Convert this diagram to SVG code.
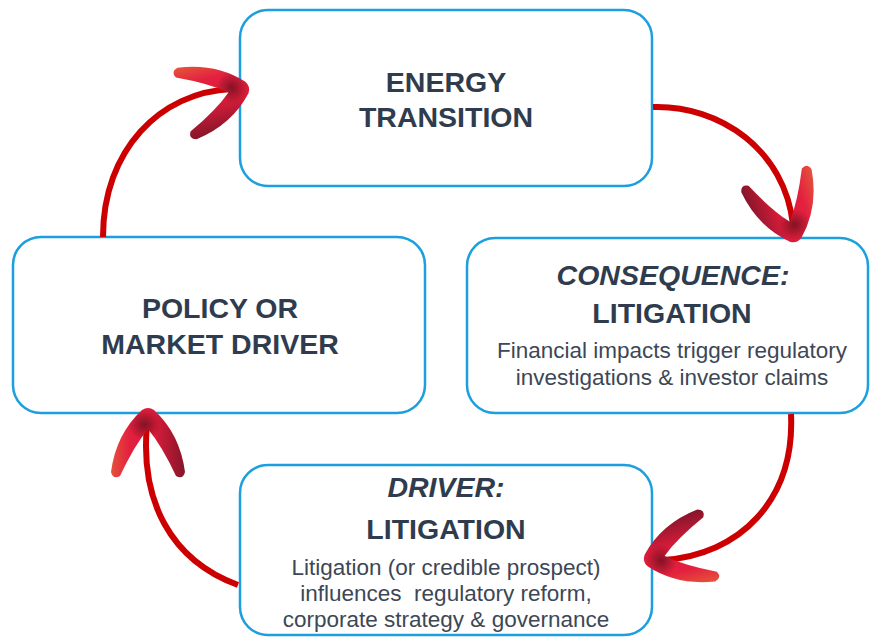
<svg xmlns="http://www.w3.org/2000/svg" width="870" height="637" viewBox="0 0 870 637">
<style>
.box{fill:#ffffff;stroke:#1b9fde;stroke-width:2.5}
.title{font-family:"Liberation Sans",Arial,sans-serif;font-weight:bold;font-size:28.5px;fill:#2f3c4e;text-anchor:middle}
.it{font-style:italic}
.desc{font-family:"Liberation Sans",Arial,sans-serif;font-size:22.5px;fill:#3d4756;text-anchor:middle;white-space:pre}
.line{fill:none;stroke:#cc0000;stroke-width:6;stroke-linecap:butt}
</style>
<defs>
<linearGradient id="hg" x1="0" y1="0" x2="0" y2="1">
<stop offset="0" stop-color="#e5523b"/>
<stop offset="0.25" stop-color="#e3203f"/>
<stop offset="0.6" stop-color="#d81c3a"/>
<stop offset="1" stop-color="#84152a"/>
</linearGradient>
<radialGradient id="hd" cx="0.76" cy="0.45" r="0.22">
<stop offset="0" stop-color="#6e0f1e" stop-opacity="0.8"/>
<stop offset="1" stop-color="#6e0f1e" stop-opacity="0"/>
</radialGradient>
<path id="hp" d="M -60,-37 Q -22,-32 2,-6 Q 6,0 2,6 Q -22,32 -60,37 Q -68,35 -64,28 Q -34,14 -17,0 Q -34,-14 -64,-28 Q -68,-35 -60,-37 Z"/>
<g id="head">
<use href="#hp" fill="url(#hg)"/>
<use href="#hp" fill="url(#hd)"/>
</g>
</defs>
<rect width="870" height="637" fill="#ffffff"/>

<g id="energy-transition">
<rect class="box" x="240" y="10" width="412" height="176" rx="28"/>
<text class="title" x="446" y="92">ENERGY</text>
<text class="title" x="446" y="127">TRANSITION</text>
</g>

<g id="consequence-litigation">
<rect class="box" x="467" y="238" width="401" height="175" rx="28"/>
<text class="title it" x="673" y="285">CONSEQUENCE:</text>
<text class="title" x="672" y="323">LITIGATION</text>
<text class="desc" x="672" y="358">Financial impacts trigger regulatory</text>
<text class="desc" x="672" y="385">investigations &amp; investor claims</text>
</g>

<g id="driver-litigation">
<rect class="box" x="240" y="465" width="412" height="170" rx="28"/>
<text class="title it" x="446" y="497">DRIVER:</text>
<text class="title" x="446" y="539">LITIGATION</text>
<text class="desc" x="446" y="575">Litigation (or credible prospect)</text>
<text class="desc" x="446" y="601">influences  regulatory reform,</text>
<text class="desc" x="446" y="627">corporate strategy &amp; governance</text>
</g>

<g id="policy-market-driver">
<rect class="box" x="13" y="237" width="412" height="176" rx="28"/>
<text class="title" x="220" y="318">POLICY OR</text>
<text class="title" x="220" y="354">MARKET DRIVER</text>
</g>

<g id="connectors">
<path class="line" d="M 103,237 C 103,150 160,92 232,89"/>
<use href="#head" transform="translate(245,88) rotate(-15)"/>
<path class="line" d="M 653,107 C 720,105 785,150 793,225"/>
<use href="#head" transform="translate(795,238) rotate(72)"/>
<path class="line" d="M 791,414 C 795,500 740,555 663,560"/>
<use href="#head" transform="translate(648,560) rotate(166)"/>
<path class="line" d="M 238,585 C 170,560 140,500 147,425"/>
<use href="#head" transform="translate(148,412) rotate(-90)"/>
</g>
</svg>
